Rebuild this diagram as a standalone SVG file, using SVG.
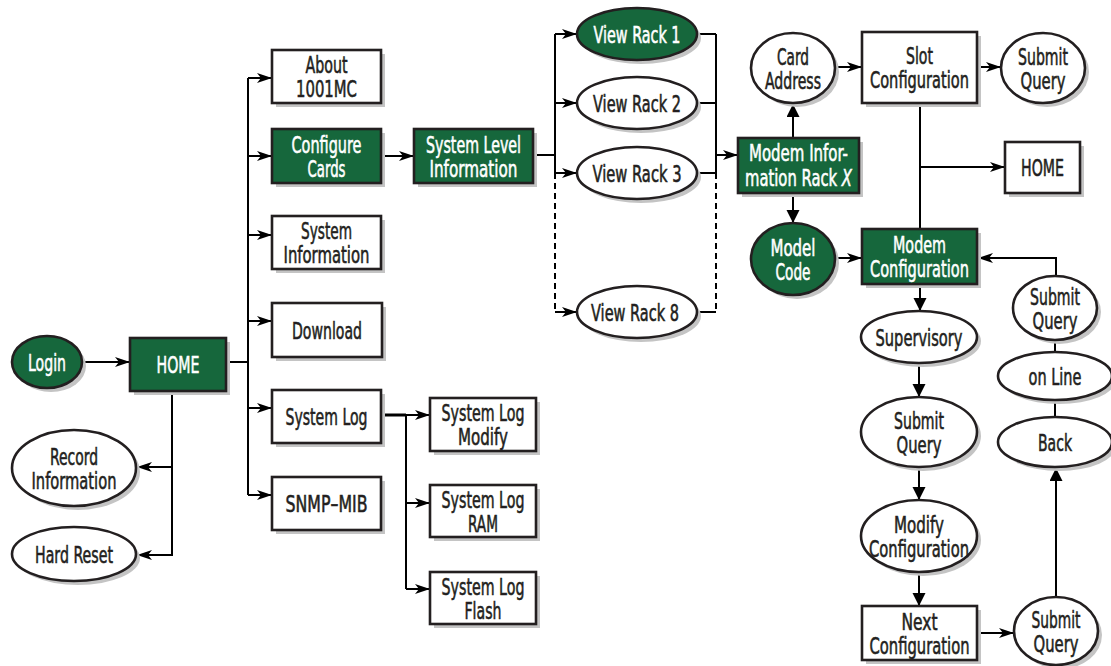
<svg xmlns="http://www.w3.org/2000/svg" width="1111" height="666" viewBox="0 0 1111 666">
<style>
.sh{fill:#c4c4c4;stroke:none}
.w{fill:#ffffff;stroke:#231f20;stroke-width:2.6}
.g{fill:#16673c;stroke:#231f20;stroke-width:2.6}
text{font-family:"DejaVu Sans Condensed","DejaVu Sans",sans-serif;font-size:23px;text-anchor:middle;fill:#231f20;stroke:#231f20;stroke-width:0.55}
.gt{fill:#ffffff;stroke:#ffffff}
.c path{fill:none;stroke:#000;stroke-width:2}
.c .d{stroke-dasharray:6,4}
.c .t{stroke-width:3}
</style>
<defs>
<marker id="a" markerUnits="userSpaceOnUse" markerWidth="16" markerHeight="12" refX="15" refY="6" orient="auto"><path d="M0,1 L15,6 L0,11 L4,6 z" fill="#000"/></marker>
<marker id="v" markerUnits="userSpaceOnUse" markerWidth="14" markerHeight="14" refX="13" refY="6.5" orient="auto"><path d="M0,0 L13,6.5 L0,13 z" fill="#000"/></marker>
</defs>
<g class="c" id="connectors">
<path d="M82,362 H130" marker-end="url(#a)"/>
<path d="M226,362 H248"/>
<path d="M248,78 V495"/>
<path d="M248,78 H272" marker-end="url(#a)"/>
<path d="M248,156 H272" marker-end="url(#a)"/>
<path d="M248,235 H272" marker-end="url(#a)"/>
<path d="M248,321 H272" marker-end="url(#a)"/>
<path d="M248,408 H272" marker-end="url(#a)"/>
<path d="M248,495 H272" marker-end="url(#a)"/>
<path d="M172,391 V555 H137" marker-end="url(#a)"/>
<path d="M172,467 H137" marker-end="url(#a)"/>
<path class="t" d="M381,415 H406"/>
<path d="M406,415 H430" marker-end="url(#a)"/>
<path d="M406,415 V589"/>
<path d="M406,503 H430" marker-end="url(#a)"/>
<path d="M406,589 H430" marker-end="url(#a)"/>
<path d="M381,156 H414" marker-end="url(#a)"/>
<path d="M533,155 H555"/>
<path d="M555,34 V173"/>
<path class="d" d="M555,173 V312"/>
<path d="M555,34 H577" marker-end="url(#a)"/>
<path d="M555,103 H577" marker-end="url(#a)"/>
<path d="M555,173 H577" marker-end="url(#a)"/>
<path d="M555,312 H577" marker-end="url(#a)"/>
<path d="M697,34 H716 M697,103 H716 M697,173 H716 M697,312 H716"/>
<path d="M716,34 V173"/>
<path class="d" d="M716,173 V312"/>
<path d="M716,155 H738" marker-end="url(#a)"/>
<path d="M793,138 V104" marker-end="url(#v)"/>
<path d="M793,193 V223" marker-end="url(#v)"/>
<path d="M835,67 H862" marker-end="url(#a)"/>
<path d="M977,67 H1001" marker-end="url(#a)"/>
<path d="M920,103 V229"/>
<path d="M920,167 H1005" marker-end="url(#a)"/>
<path d="M835,258 H862" marker-end="url(#a)"/>
<path d="M1056,277 V258 H978" marker-end="url(#a)"/>
<path d="M920,284 V311" marker-end="url(#v)"/>
<path d="M919,363 V397" marker-end="url(#v)"/>
<path d="M919,467 V500" marker-end="url(#v)"/>
<path d="M919,572 V606" marker-end="url(#v)"/>
<path d="M977,633 H1014" marker-end="url(#a)"/>
<path d="M1056,597 V468" marker-end="url(#v)"/>
<path d="M1055,417 V400 M1055,352 V340"/>
</g>
<g id="login"><ellipse class="sh" cx="51" cy="366" rx="35" ry="26"/><ellipse class="g" cx="47" cy="362" rx="35" ry="26"/><text class="gt" x="47" y="371" textLength="38" lengthAdjust="spacingAndGlyphs">Login</text></g>
<g id="home1"><rect class="sh" x="134" y="342" width="96" height="53"/><rect class="g" x="130" y="338" width="96" height="53"/><text class="gt" x="178" y="373" textLength="43" lengthAdjust="spacingAndGlyphs">HOME</text></g>
<g id="record"><ellipse class="sh" cx="78" cy="472" rx="62" ry="38"/><ellipse class="w" cx="74" cy="468" rx="62" ry="38"/><text x="74" y="465" textLength="48" lengthAdjust="spacingAndGlyphs">Record</text><text x="74" y="489" textLength="85" lengthAdjust="spacingAndGlyphs">Information</text></g>
<g id="hardreset"><ellipse class="sh" cx="78" cy="558" rx="62" ry="27"/><ellipse class="w" cx="74" cy="554" rx="62" ry="27"/><text x="74" y="563" textLength="78" lengthAdjust="spacingAndGlyphs">Hard Reset</text></g>
<g id="about"><rect class="sh" x="276" y="54" width="109" height="53"/><rect class="w" x="272" y="50" width="109" height="53"/><text x="326.5" y="73" textLength="42" lengthAdjust="spacingAndGlyphs">About</text><text x="326.5" y="97" textLength="61" lengthAdjust="spacingAndGlyphs">1001MC</text></g>
<g id="configure"><rect class="sh" x="276" y="133" width="109" height="54"/><rect class="g" x="272" y="129" width="109" height="54"/><text class="gt" x="326.5" y="153" textLength="70" lengthAdjust="spacingAndGlyphs">Configure</text><text class="gt" x="326.5" y="177" textLength="38" lengthAdjust="spacingAndGlyphs">Cards</text></g>
<g id="sysinfo"><rect class="sh" x="276" y="220" width="109" height="53"/><rect class="w" x="272" y="216" width="109" height="53"/><text x="326.5" y="239" textLength="51" lengthAdjust="spacingAndGlyphs">System</text><text x="326.5" y="263" textLength="86" lengthAdjust="spacingAndGlyphs">Information</text></g>
<g id="download"><rect class="sh" x="276" y="307" width="110" height="54"/><rect class="w" x="272" y="303" width="110" height="54"/><text x="327" y="339" textLength="70" lengthAdjust="spacingAndGlyphs">Download</text></g>
<g id="syslog"><rect class="sh" x="276" y="394" width="109" height="53"/><rect class="w" x="272" y="390" width="109" height="53"/><text x="326.5" y="425" textLength="82" lengthAdjust="spacingAndGlyphs">System Log</text></g>
<g id="snmp"><rect class="sh" x="276" y="481" width="109" height="53"/><rect class="w" x="272" y="477" width="109" height="53"/><text x="326.5" y="512" textLength="82" lengthAdjust="spacingAndGlyphs">SNMP–MIB</text></g>
<g id="sli"><rect class="sh" x="418" y="133" width="119" height="54"/><rect class="g" x="414" y="129" width="119" height="54"/><text class="gt" x="473.5" y="153" textLength="95" lengthAdjust="spacingAndGlyphs">System Level</text><text class="gt" x="473.5" y="177" textLength="88" lengthAdjust="spacingAndGlyphs">Information</text></g>
<g id="slmodify"><rect class="sh" x="434" y="402" width="106" height="53"/><rect class="w" x="430" y="398" width="106" height="53"/><text x="483" y="421" textLength="83" lengthAdjust="spacingAndGlyphs">System Log</text><text x="483" y="445" textLength="50" lengthAdjust="spacingAndGlyphs">Modify</text></g>
<g id="slram"><rect class="sh" x="434" y="489" width="106" height="52"/><rect class="w" x="430" y="485" width="106" height="52"/><text x="483" y="508" textLength="83" lengthAdjust="spacingAndGlyphs">System Log</text><text x="483" y="532" textLength="30" lengthAdjust="spacingAndGlyphs">RAM</text></g>
<g id="slflash"><rect class="sh" x="434" y="576" width="106" height="52"/><rect class="w" x="430" y="572" width="106" height="52"/><text x="483" y="595" textLength="83" lengthAdjust="spacingAndGlyphs">System Log</text><text x="483" y="619" textLength="37" lengthAdjust="spacingAndGlyphs">Flash</text></g>
<g id="rack1"><ellipse class="sh" cx="641" cy="38" rx="60" ry="26"/><ellipse class="g" cx="637" cy="34" rx="60" ry="26"/><text class="gt" x="637" y="43" textLength="87" lengthAdjust="spacingAndGlyphs">View Rack 1</text></g>
<g id="rack2"><ellipse class="sh" cx="641" cy="107" rx="60" ry="26"/><ellipse class="w" cx="637" cy="103" rx="60" ry="26"/><text x="637" y="112" textLength="88" lengthAdjust="spacingAndGlyphs">View Rack 2</text></g>
<g id="rack3"><ellipse class="sh" cx="641" cy="177" rx="60" ry="26"/><ellipse class="w" cx="637" cy="173" rx="60" ry="26"/><text x="637" y="182" textLength="89" lengthAdjust="spacingAndGlyphs">View Rack 3</text></g>
<g id="rack8"><ellipse class="sh" cx="641" cy="316" rx="60" ry="26"/><ellipse class="w" cx="637" cy="312" rx="60" ry="26"/><text x="635" y="321" textLength="88" lengthAdjust="spacingAndGlyphs">View Rack 8</text></g>
<g id="modeminfo"><rect class="sh" x="742" y="142" width="121" height="55"/><rect class="g" x="738" y="138" width="121" height="55"/><text class="gt" x="798.5" y="161" textLength="99" lengthAdjust="spacingAndGlyphs">Modem Infor-</text><text class="gt" x="798.5" y="186" textLength="107" lengthAdjust="spacingAndGlyphs">mation Rack <tspan font-style="italic">X</tspan></text></g>
<g id="cardaddr"><ellipse class="sh" cx="797" cy="72" rx="42" ry="35"/><ellipse class="w" cx="793" cy="68" rx="42" ry="35"/><text x="793" y="65" textLength="32" lengthAdjust="spacingAndGlyphs">Card</text><text x="793" y="89" textLength="56" lengthAdjust="spacingAndGlyphs">Address</text></g>
<g id="modelcode"><ellipse class="sh" cx="797" cy="263" rx="42" ry="36"/><ellipse class="g" cx="793" cy="259" rx="42" ry="36"/><text class="gt" x="793" y="256" textLength="45" lengthAdjust="spacingAndGlyphs">Model</text><text class="gt" x="793" y="280" textLength="35" lengthAdjust="spacingAndGlyphs">Code</text></g>
<g id="slotconf"><rect class="sh" x="866" y="36" width="115" height="71"/><rect class="w" x="862" y="32" width="115" height="71"/><text x="919.5" y="64" textLength="27" lengthAdjust="spacingAndGlyphs">Slot</text><text x="919.5" y="88" textLength="99" lengthAdjust="spacingAndGlyphs">Configuration</text></g>
<g id="submit1"><ellipse class="sh" cx="1047" cy="72" rx="42" ry="35"/><ellipse class="w" cx="1043" cy="68" rx="42" ry="35"/><text x="1043" y="65" textLength="50" lengthAdjust="spacingAndGlyphs">Submit</text><text x="1043" y="89" textLength="45" lengthAdjust="spacingAndGlyphs">Query</text></g>
<g id="home2"><rect class="sh" x="1009" y="146" width="75" height="51"/><rect class="w" x="1005" y="142" width="75" height="51"/><text x="1042.5" y="176" textLength="43" lengthAdjust="spacingAndGlyphs">HOME</text></g>
<g id="modemconf"><rect class="sh" x="866" y="233" width="115" height="55"/><rect class="g" x="862" y="229" width="115" height="55"/><text class="gt" x="919.5" y="253" textLength="53" lengthAdjust="spacingAndGlyphs">Modem</text><text class="gt" x="919.5" y="277" textLength="99" lengthAdjust="spacingAndGlyphs">Configuration</text></g>
<g id="supervisory"><ellipse class="sh" cx="923" cy="341" rx="58" ry="26"/><ellipse class="w" cx="919" cy="337" rx="58" ry="26"/><text x="919" y="346" textLength="87" lengthAdjust="spacingAndGlyphs">Supervisory</text></g>
<g id="submit2"><ellipse class="sh" cx="923" cy="436" rx="58" ry="35"/><ellipse class="w" cx="919" cy="432" rx="58" ry="35"/><text x="919" y="429" textLength="50" lengthAdjust="spacingAndGlyphs">Submit</text><text x="919" y="453" textLength="45" lengthAdjust="spacingAndGlyphs">Query</text></g>
<g id="modifyconf"><ellipse class="sh" cx="923" cy="540" rx="58" ry="36"/><ellipse class="w" cx="919" cy="536" rx="58" ry="36"/><text x="919" y="533" textLength="50" lengthAdjust="spacingAndGlyphs">Modify</text><text x="919" y="557" textLength="100" lengthAdjust="spacingAndGlyphs">Configuration</text></g>
<g id="nextconf"><rect class="sh" x="866" y="610" width="115" height="54"/><rect class="w" x="862" y="606" width="115" height="54"/><text x="919.5" y="630" textLength="36" lengthAdjust="spacingAndGlyphs">Next</text><text x="919.5" y="654" textLength="100" lengthAdjust="spacingAndGlyphs">Configuration</text></g>
<g id="submit4"><ellipse class="sh" cx="1060" cy="635" rx="42" ry="34"/><ellipse class="w" cx="1056" cy="631" rx="42" ry="34"/><text x="1056" y="628" textLength="49" lengthAdjust="spacingAndGlyphs">Submit</text><text x="1056" y="652" textLength="45" lengthAdjust="spacingAndGlyphs">Query</text></g>
<g id="back"><ellipse class="sh" cx="1059" cy="446" rx="57" ry="25"/><ellipse class="w" cx="1055" cy="442" rx="57" ry="25"/><text x="1055" y="451" textLength="34" lengthAdjust="spacingAndGlyphs">Back</text></g>
<g id="online"><ellipse class="sh" cx="1059" cy="380" rx="57" ry="24"/><ellipse class="w" cx="1055" cy="376" rx="57" ry="24"/><text x="1055" y="385" textLength="53" lengthAdjust="spacingAndGlyphs">on Line</text></g>
<g id="submit3"><ellipse class="sh" cx="1059" cy="312" rx="42" ry="32"/><ellipse class="w" cx="1055" cy="308" rx="42" ry="32"/><text x="1055" y="305" textLength="50" lengthAdjust="spacingAndGlyphs">Submit</text><text x="1055" y="329" textLength="45" lengthAdjust="spacingAndGlyphs">Query</text></g>
</svg>
